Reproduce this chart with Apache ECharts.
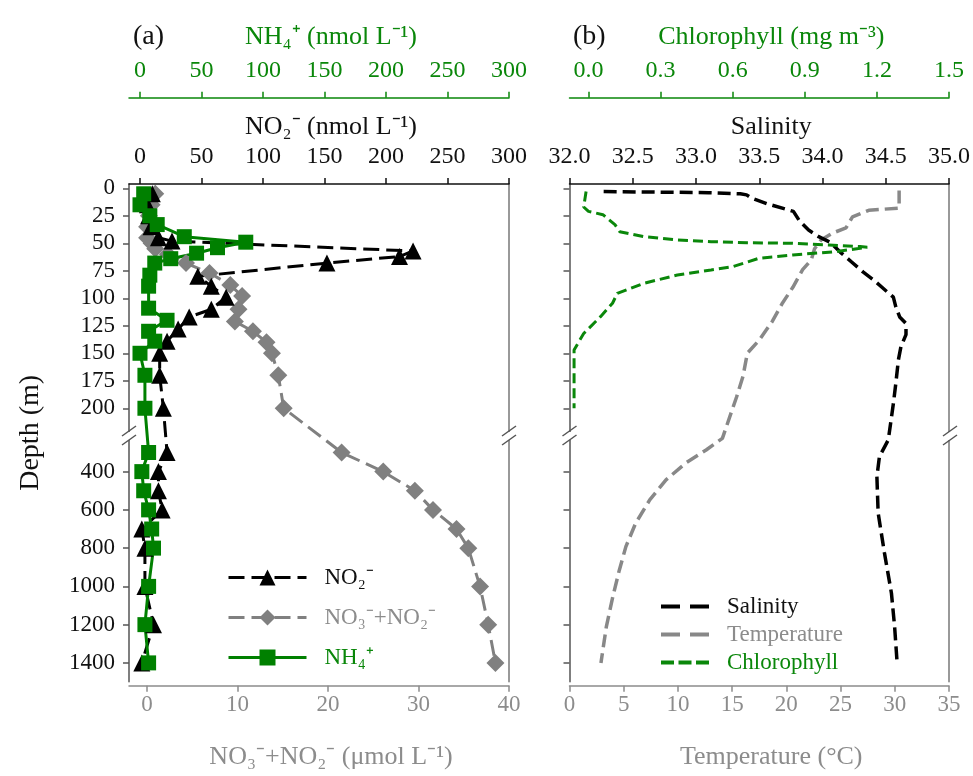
<!DOCTYPE html>
<html>
<head>
<meta charset="utf-8">
<script src="https://cdn.jsdelivr.net/npm/echarts@6/dist/echarts.min.js"></script>
<style>
  html, body { margin: 0; padding: 0; background: #fff; }
  #chart { width: 973px; height: 776px; }
</style>
</head>
<body>
<div id="chart"></div>
<script>
// depth profiles: (a) nutrients, (b) CTD salinity / temperature / chlorophyll

const depthTicks = [0, 25, 50, 75, 100, 125, 150, 175, 200, 400, 600, 800, 1000, 1200, 1400];
const no2Ticks = [0, 50, 100, 150, 200, 250, 300];
const nh4Ticks = [0, 50, 100, 150, 200, 250, 300];
const no3Ticks = [0, 10, 20, 30, 40];
const chlTicks = [0, 0.3, 0.6, 0.9, 1.2, 1.5];

// panel (a)
const no2Depth = [5, 15, 25, 35, 45, 48, 57, 62, 68, 80, 89, 99, 110, 117, 128, 139, 150, 170, 200, 300, 400, 500, 600, 700, 800, 1000, 1200, 1400];
const no2Val = [10, 6, 7, 9, 15, 26, 222, 211, 152, 47, 58, 70, 58, 40, 31, 22, 16, 16, 19, 22, 15, 15, 18, 1.5, 4, 4, 11, 1.5];

const no3Depth = [5, 15, 25, 35, 45, 50, 55, 60, 68, 77, 88, 98, 110, 121, 130, 140, 150, 170, 200, 300, 400, 500, 600, 700, 800, 1000, 1200, 1400];
const no3Val = [0.9, 0.5, 0.2, 0.0, 0.0, 0.5, 0.9, 2.3, 4.3, 6.9, 9.2, 10.5, 10.1, 9.7, 11.7, 13.2, 13.8, 14.5, 15.1, 21.5, 26.1, 29.6, 31.6, 34.2, 35.5, 36.8, 37.7, 38.5];

const nh4Depth = [5, 15, 25, 33, 44, 49, 54, 59, 64, 68, 79, 89, 109, 120, 130, 139, 150, 170, 200, 300, 400, 500, 600, 700, 800, 1000, 1200, 1400];
const nh4Val = [3, 0, 8, 14, 36, 86, 63, 46, 25, 12, 8, 7, 7, 22, 7, 12, 0, 4, 4, 7, 1.5, 3, 7, 9.5, 11, 7, 4, 7];

// panel (b)
const salDepth = [3, 3.5, 4, 5, 6, 9, 14, 21, 30, 38, 44, 49, 58, 67, 76, 83, 90, 99, 108, 117, 123, 133, 144, 156, 177, 196, 234, 322, 426, 617, 826, 1036, 1210, 1400];
const salVal = [32.27, 32.7, 33.1, 33.35, 33.4, 33.44, 33.56, 33.77, 33.82, 33.89, 33.97, 34.06, 34.14, 34.23, 34.32, 34.40, 34.47, 34.56, 34.58, 34.61, 34.66, 34.66, 34.62, 34.60, 34.58, 34.56, 34.52, 34.45, 34.43, 34.44, 34.49, 34.545, 34.57, 34.59];

const tempDepth = [2, 18, 20, 26, 36, 41, 47, 55, 65, 74, 90, 105, 121, 138, 150, 171, 190, 226, 287, 356, 443, 548, 670, 792, 914, 1053, 1210, 1400];
const tempVal = [30.4, 30.4, 27.6, 26.1, 25.5, 24.2, 23.2, 22.6, 22.3, 21.5, 20.6, 19.6, 18.7, 17.5, 16.4, 16.0, 15.4, 14.1, 12.6, 10.7, 8.9, 7.4, 6.1, 5.2, 4.6, 4.0, 3.4, 2.9];

const chlDepth = [3, 17, 21, 24, 33, 39.5, 44, 47, 48.5, 49.5, 50, 51.5, 53, 53.6, 57.6, 60.6, 63.6, 71.3, 74.3, 78.8, 86.4, 95.5, 104.5, 116.7, 132, 147, 165, 189.5, 200];
const chlVal = [-0.01, -0.02, 0.0, 0.06, 0.11, 0.13, 0.23, 0.37, 0.51, 0.66, 0.85, 1.0, 1.13, 1.16, 1.03, 0.85, 0.71, 0.60, 0.51, 0.37, 0.23, 0.12, 0.10, 0.05, -0.02, -0.06, -0.06, -0.06, -0.06];

// broken depth axis: 0-200 m stretched, 300-1400 m compressed
function tDepth(d) {
    return d <= 200 ? d : 257.6 + (d - 400) * 0.1739;
}
const depthTickPos = depthTicks.map(tDepth);
function depthLabel(v) {
    let best = 0;
    depthTickPos.forEach((p, i) => { if (Math.abs(p - v) < Math.abs(depthTickPos[best] - v)) best = i; });
    return String(depthTicks[best]);
}
function pairs(xs, ds) {
    return xs.map((x, i) => [x, tDepth(ds[i])]);
}

const FONT = 'Liberation Serif';
const GREEN = '#0a870a';
const GRAY = '#808080';
const GRAY_TXT = '#8c8c8c';

function xAx(o) {
    return Object.assign({
        type: 'value',
        nameLocation: 'middle',
        splitLine: { show: false },
        axisLine: { show: true, onZero: false, lineStyle: { color: o.color, width: 1.5 } },
        axisTick: { show: true, length: 6, lineStyle: { color: o.color, width: 1.5 } },
        axisLabel: { color: o.color, fontFamily: FONT, fontSize: 24, margin: 15 },
        nameTextStyle: { color: o.color, fontFamily: FONT, fontSize: 26, padding: [0, 0, 0, 24] }
    }, o.extra);
}

const chart = echarts.init(document.getElementById('chart'));

const yTick = { show: true, length: 6, customValues: depthTickPos, lineStyle: { color: '#555', width: 1.5 } };
const yFrame = { show: true, onZero: false, lineStyle: { color: '#777', width: 1.5 } };

chart.setOption({
    animation: false,
    backgroundColor: '#fff',
    title: [
        { text: '(a)', left: 128, top: 18, textStyle: { fontFamily: FONT, fontSize: 28, fontWeight: 'normal', color: '#111' } },
        { text: '(b)', left: 568, top: 18, textStyle: { fontFamily: FONT, fontSize: 28, fontWeight: 'normal', color: '#111' } }
    ],
    grid: [
        { left: 129, top: 184, width: 380, height: 497.7 },
        { left: 569.5, top: 184, width: 380.5, height: 497.7 }
    ],
    xAxis: [
        xAx({ color: '#111', extra: {
            gridIndex: 0, position: 'top', min: -8.94, max: 300,
            name: 'NO₂⁻ (nmol L⁻¹)', nameGap: 44,
            axisTick: { show: true, length: 6, customValues: no2Ticks, lineStyle: { color: '#111', width: 1.5 } },
            axisLabel: { customValues: no2Ticks, color: '#111', fontFamily: FONT, fontSize: 24, margin: 15 }
        } }),
        xAx({ color: GREEN, extra: {
            gridIndex: 0, position: 'top', offset: 86.3, min: -8.94, max: 300,
            name: 'NH₄⁺ (nmol L⁻¹)', nameGap: 48,
            axisTick: { show: true, length: 6, customValues: nh4Ticks, lineStyle: { color: GREEN, width: 1.5 } },
            axisLabel: { customValues: nh4Ticks, color: GREEN, fontFamily: FONT, fontSize: 24, margin: 15 }
        } }),
        xAx({ color: GRAY_TXT, extra: {
            gridIndex: 0, position: 'bottom', offset: 4, min: -2, max: 40,
            name: 'NO₃⁻+NO₂⁻ (μmol L⁻¹)', nameGap: 58,
            axisTick: { show: true, length: 6, customValues: no3Ticks, lineStyle: { color: GRAY_TXT, width: 1.5 } },
            axisLabel: { customValues: no3Ticks, color: GRAY_TXT, fontFamily: FONT, fontSize: 23, margin: 8 }
        } }),
        xAx({ color: '#111', extra: {
            gridIndex: 1, position: 'top', min: 32, max: 35, interval: 0.5,
            name: 'Salinity', nameGap: 44,
            axisLabel: { color: '#111', fontFamily: FONT, fontSize: 24, margin: 15, formatter: v => v.toFixed(1) }
        } }),
        xAx({ color: GREEN, extra: {
            gridIndex: 1, position: 'top', offset: 86.3, min: -0.079, max: 1.5,
            name: 'Chlorophyll (mg m⁻³)', nameGap: 48,
            axisTick: { show: true, length: 6, customValues: chlTicks, lineStyle: { color: GREEN, width: 1.5 } },
            axisLabel: { customValues: chlTicks, color: GREEN, fontFamily: FONT, fontSize: 24, margin: 15, formatter: v => v.toFixed(1) }
        } }),
        xAx({ color: GRAY_TXT, extra: {
            gridIndex: 1, position: 'bottom', offset: 4, min: 0, max: 35, interval: 5,
            name: 'Temperature (°C)', nameGap: 58,
            axisLabel: { color: GRAY_TXT, fontFamily: FONT, fontSize: 23, margin: 8 }
        } })
    ],
    yAxis: [
        {
            type: 'value', gridIndex: 0, inverse: true, min: -3.9, max: 448.6,
            name: 'Depth (m)', nameLocation: 'middle', nameGap: 84,
            nameTextStyle: { fontFamily: FONT, fontSize: 28, color: '#111' },
            splitLine: { show: false },
            axisLine: { show: true, onZero: false, lineStyle: { color: '#555', width: 1.5 } },
            axisTick: yTick,
            axisLabel: { customValues: depthTickPos, formatter: depthLabel, fontFamily: FONT, fontSize: 23, color: '#111', margin: 14 }
        },
        {
            type: 'value', gridIndex: 0, position: 'right', inverse: true, min: -3.9, max: 448.6,
            splitLine: { show: false }, axisTick: { show: false }, axisLabel: { show: false },
            axisLine: yFrame
        },
        {
            type: 'value', gridIndex: 1, inverse: true, min: -3.9, max: 448.6,
            splitLine: { show: false },
            axisLine: { show: true, onZero: false, lineStyle: { color: '#555', width: 1.5 } },
            axisTick: yTick,
            axisLabel: { show: false }
        },
        {
            type: 'value', gridIndex: 1, position: 'right', inverse: true, min: -3.9, max: 448.6,
            splitLine: { show: false }, axisTick: { show: false }, axisLabel: { show: false },
            axisLine: yFrame
        }
    ],
    legend: [
        {
            left: 222, top: 561, orient: 'vertical', itemWidth: 78, itemHeight: 20, itemGap: 17,
            lineStyle: { width: 3 },
            data: [
                { name: 'NO₂⁻', textStyle: { color: '#111' } },
                { name: 'NO₃⁻+NO₂⁻', textStyle: { color: GRAY_TXT } },
                { name: 'NH₄⁺', textStyle: { color: GREEN } }
            ],
            textStyle: { fontFamily: FONT, fontSize: 23, padding: [0, 0, 0, 13] }
        },
        {
            left: 656, top: 590, orient: 'vertical', itemWidth: 48, itemHeight: 4, itemGap: 5,
            data: [
                { name: 'Salinity', icon: 'path://M0,0H19V4H0Z M29,0H48V4H29Z', textStyle: { color: '#111' } },
                { name: 'Temperature', icon: 'path://M0,0H19V4H0Z M29,0H48V4H29Z', textStyle: { color: GRAY_TXT } },
                { name: 'Chlorophyll', icon: 'path://M0,0H13V4H0Z M17.5,0H30.5V4H17.5Z M35,0H48V4H35Z', textStyle: { color: GREEN } }
            ],
            textStyle: { fontFamily: FONT, fontSize: 23, padding: [0, 0, 0, 13] }
        }
    ],
    series: [
        {
            name: 'NO₃⁻+NO₂⁻', type: 'line', xAxisIndex: 2, yAxisIndex: 0,
            data: pairs(no3Val, no3Depth), symbol: 'diamond', symbolSize: 18,
            itemStyle: { color: GRAY }, lineStyle: { color: GRAY, width: 3, type: [16, 7] }
        },
        {
            name: 'NO₂⁻', type: 'line', xAxisIndex: 0, yAxisIndex: 0,
            data: pairs(no2Val, no2Depth), symbol: 'triangle', symbolSize: 17,
            itemStyle: { color: '#000' }, lineStyle: { color: '#000', width: 3, type: [16, 7] }
        },
        {
            name: 'NH₄⁺', type: 'line', xAxisIndex: 1, yAxisIndex: 0,
            data: pairs(nh4Val, nh4Depth), symbol: 'rect', symbolSize: 15,
            itemStyle: { color: '#008000' }, lineStyle: { color: '#008000', width: 3 }
        },
        {
            name: 'Temperature', type: 'line', xAxisIndex: 5, yAxisIndex: 2,
            data: pairs(tempVal, tempDepth), showSymbol: false, symbol: 'none',
            lineStyle: { color: '#888', width: 3.5, type: [13, 6] }, itemStyle: { color: '#888' }
        },
        {
            name: 'Salinity', type: 'line', xAxisIndex: 3, yAxisIndex: 2,
            data: pairs(salVal, salDepth), showSymbol: false, symbol: 'none',
            lineStyle: { color: '#000', width: 3.5, type: [13, 6] }, itemStyle: { color: '#000' }
        },
        {
            name: 'Chlorophyll', type: 'line', xAxisIndex: 4, yAxisIndex: 2,
            data: pairs(chlVal, chlDepth), showSymbol: false, symbol: 'none',
            lineStyle: { color: '#0a870a', width: 3, type: [10, 5] }, itemStyle: { color: '#0a870a' }
        }
    ]
});

// axis break marks "//" on both frames
const breakY = 436;
const marks = [];
[129, 509, 569.5, 950].forEach(x => {
    marks.push({ type: 'rect', shape: { x: x - 4, y: breakY - 4, width: 8, height: 8 }, style: { fill: '#fff' }, z: 100 });
    marks.push({ type: 'line', shape: { x1: x - 7, y1: breakY, x2: x + 7, y2: breakY - 10 }, style: { stroke: '#555', lineWidth: 1.5 }, z: 101 });
    marks.push({ type: 'line', shape: { x1: x - 7, y1: breakY + 9, x2: x + 7, y2: breakY - 1 }, style: { stroke: '#555', lineWidth: 1.5 }, z: 101 });
});
chart.setOption({ graphic: marks });
</script>
</body>
</html>
